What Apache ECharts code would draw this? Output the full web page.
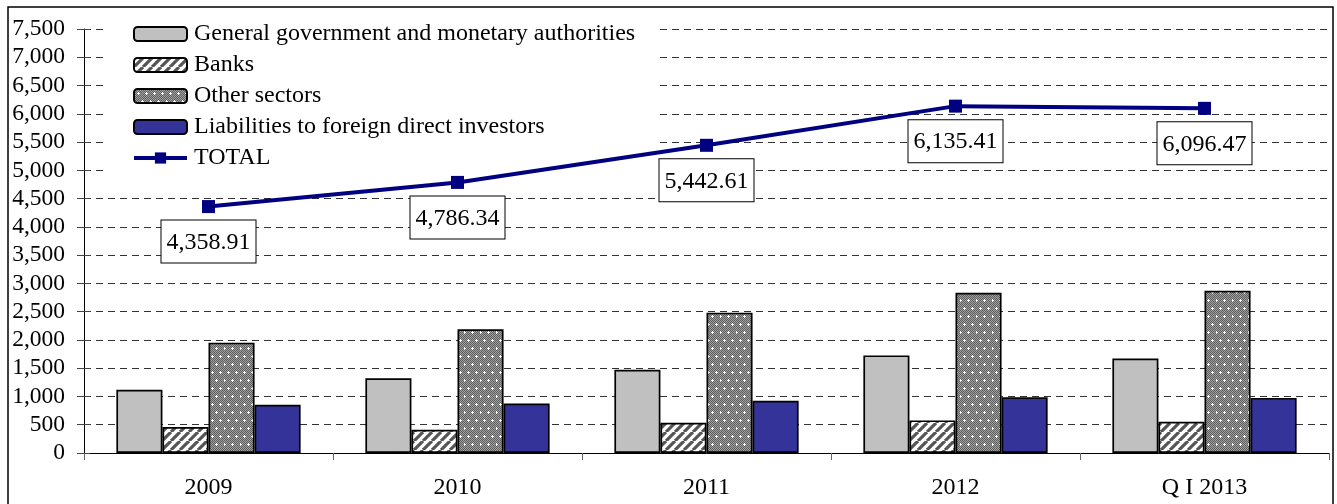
<!DOCTYPE html>
<html>
<head>
<meta charset="utf-8">
<script src="https://cdn.jsdelivr.net/npm/echarts@6/dist/echarts.min.js"></script>
<style>
html,body{margin:0;padding:0;background:#fff;}
#chart{width:1337px;height:504px;}
</style>
</head>
<body>
<div id="chart"></div>
<script>
const categories = ['2009', '2010', '2011', '2012', 'Q I 2013'];
const govValues = [1117, 1323, 1472, 1726, 1670];
const bankValues = [459, 411, 536, 577, 553];
const otherValues = [1952, 2188, 2483, 2835, 2871];
const fdiValues = [852, 875, 923, 986, 975];
const totalValues = [4358.91, 4786.34, 5442.61, 6135.41, 6096.47];
const seriesNames = ['General government and monetary authorities', 'Banks', 'Other sectors', 'Liabilities to foreign direct investors', 'TOTAL'];

const FONT = 'Liberation Serif, Times New Roman, serif';

function stripePattern() {
  const c = document.createElement('canvas');
  c.width = 9; c.height = 9;
  const g = c.getContext('2d');
  g.fillStyle = '#ffffff'; g.fillRect(0, 0, 9, 9);
  g.strokeStyle = '#555555'; g.lineWidth = 3.2;
  g.beginPath();
  for (let k = -9; k <= 18; k += 9) { g.moveTo(k, 9); g.lineTo(k + 9, 0); }
  g.stroke();
  return c;
}
function dotPattern() {
  const c = document.createElement('canvas');
  c.width = 16; c.height = 16;
  const g = c.getContext('2d');
  for (let y = 0; y < 16; y++) for (let x = 0; x < 16; x++) {
    g.fillStyle = ((x + y) % 2 === 0) ? '#5e5e5e' : '#a0a0a0';
    g.fillRect(x, y, 1, 1);
  }
  g.fillStyle = '#ffffff';
  const plus = (cx, cy) => { g.fillRect(cx - 1, cy, 3, 1); g.fillRect(cx, cy - 1, 1, 3); };
  plus(4, 4); plus(12, 4); plus(0, 12); plus(8, 12);
  return c;
}

const chart = echarts.init(document.getElementById('chart'), null, {renderer: 'canvas'});
const barBorder = {borderColor: '#000', borderWidth: 1.7};
const fmt = v => v.toLocaleString('en-US', {minimumFractionDigits: 2, maximumFractionDigits: 2});

chart.setOption({
  animation: false,
  backgroundColor: '#fff',
  graphic: [{
    type: 'rect', shape: {x: 8, y: 7, width: 1325, height: 530},
    style: {fill: 'none', stroke: '#000', lineWidth: 1.5}, z: -10, silent: true
  }],
  grid: {left: 84, right: 8, top: 29, bottom: 51, containLabel: false},
  legend: {
    orient: 'vertical', left: 107, top: 18, z: 1,
    padding: [4, 23, 5, 25], backgroundColor: '#fff',
    itemWidth: 53, itemHeight: 14, itemGap: 7,
    textStyle: {fontFamily: FONT, fontSize: 24, color: '#000', padding: [0, 0, 0, 2]},
    data: [
      {name: seriesNames[0]}, {name: seriesNames[1]}, {name: seriesNames[2]}, {name: seriesNames[3]},
      {name: seriesNames[4], lineStyle: {width: 4, color: '#000080'}}
    ]
  },
  xAxis: {
    type: 'category', data: categories,
    axisLine: {lineStyle: {color: '#000', width: 1}},
    axisTick: {show: true, length: 7, lineStyle: {color: '#666'}},
    axisLabel: {fontFamily: FONT, fontSize: 24, color: '#000', margin: 23}
  },
  yAxis: [{
    type: 'value', min: 0, max: 7500, interval: 500,
    axisLine: {show: true, lineStyle: {color: '#000', width: 1}},
    axisTick: {show: true, length: 7, lineStyle: {color: '#444'}},
    axisLabel: {fontFamily: FONT, fontSize: 23.5, color: '#000', margin: 19,
      formatter: v => v.toLocaleString('en-US')},
    splitLine: {show: true, lineStyle: {color: '#333', type: [7, 5], width: 1}}
  }, {
    type: 'value', min: 0, max: 7500, interval: 500, position: 'left',
    axisLine: {show: false}, axisLabel: {show: false}, splitLine: {show: false},
    axisTick: {show: true, inside: true, length: 6, lineStyle: {color: '#444'}}
  }],
  series: [
    {name: seriesNames[0], type: 'bar', data: govValues, barGap: '0%', barCategoryGap: '26%',
      itemStyle: Object.assign({color: '#c0c0c0'}, barBorder)},
    {name: seriesNames[1], type: 'bar', data: bankValues,
      itemStyle: Object.assign({color: {image: stripePattern(), repeat: 'repeat'}}, barBorder)},
    {name: seriesNames[2], type: 'bar', data: otherValues,
      itemStyle: Object.assign({color: {image: dotPattern(), repeat: 'repeat'}}, barBorder)},
    {name: seriesNames[3], type: 'bar', data: fdiValues,
      itemStyle: Object.assign({color: '#333399'}, barBorder)},
    {name: seriesNames[4], type: 'line', data: totalValues,
      symbol: 'rect', symbolSize: 13, z: 5,
      lineStyle: {color: '#000080', width: 4},
      itemStyle: {color: '#000080'},
      label: {show: true, position: 'bottom', distance: 7.5,
        formatter: p => fmt(p.value),
        fontFamily: FONT, fontSize: 24, color: '#000',
        backgroundColor: '#fff', borderColor: '#000', borderWidth: 1,
        padding: [10, 5, 8, 5]}
    }
  ]
});
</script>
</body>
</html>
